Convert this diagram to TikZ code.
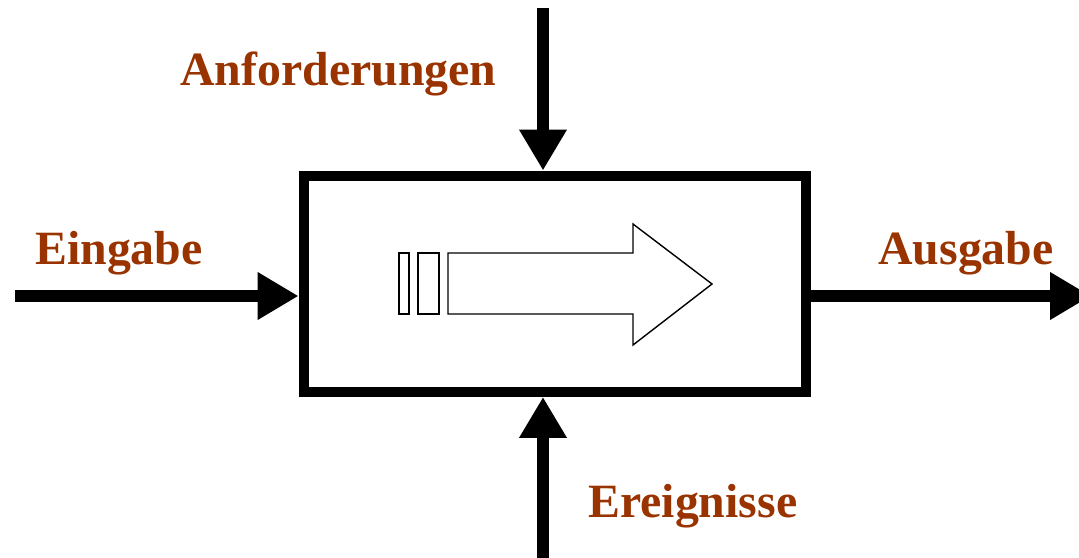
\documentclass[tikz,border=0pt]{standalone}
\usepackage{fontspec}
\setmainfont{Liberation Serif}
\usetikzlibrary{arrows.meta}
\definecolor{labelbrown}{RGB}{153,51,0}

\begin{document}
\begin{tikzpicture}[x=0.02cm, y=-0.02cm,
  lbl/.style={anchor=base west, inner sep=0, text=labelbrown,
    font=\fontsize{27.2pt}{32pt}\selectfont\bfseries},
  flow/.style={line width=6.3pt, -{Triangle[length=0.82cm, width=0.9cm]}},
  procbox/.style={draw, line width=5.7pt, minimum width=10.06cm, minimum height=4.33cm, inner sep=0}]
  \useasboundingbox (0, 0) rectangle (1079, 558);

  % process box
  \node[procbox] (box) at (555, 283.75) {};

  % labels
  \node[lbl] (anf) at (180, 85) {Anforderungen};
  \node[lbl] (ein) at (35, 264) {Eingabe};
  \node[lbl] (aus) at (878, 264) {Ausgabe};
  \node[lbl] (ere) at (588, 517) {Ereignisse};

  % connectors
  \coordinate (topin) at (543, 8);
  \coordinate (leftin) at (15, 296);
  \coordinate (rightout) at (1091, 296);
  \coordinate (botin) at (543, 558);
  \draw[flow] (topin) -- (box.north -| topin);
  \draw[flow] (leftin) -- (leftin -| box.west);
  \draw[flow] (botin) -- (box.south -| botin);
  \draw[flow] (rightout -| box.east) -- (rightout);

  % inner arrow
  \draw[line width=0.8pt] (399, 253) rectangle (409, 314);
  \draw[line width=0.8pt] (418, 253) rectangle (439, 314);
  \draw[line width=0.8pt, line join=miter] (448, 253) -- (633, 253) -- (633, 224) -- (712, 284)
    -- (633, 345) -- (633, 314) -- (448, 314) -- cycle;
\end{tikzpicture}
\end{document}
